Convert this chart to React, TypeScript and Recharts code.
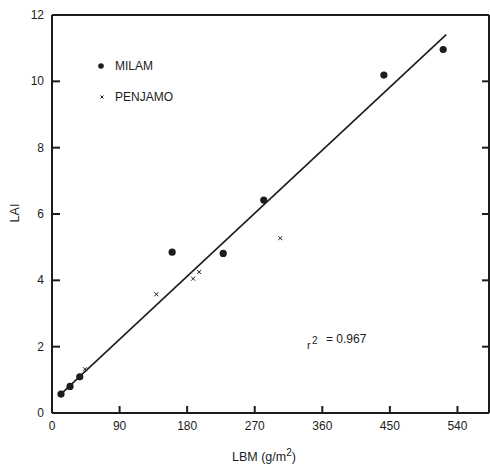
import { ScatterChart, Scatter, XAxis, YAxis } from 'recharts'

// LBM (g/m2) vs LAI
const milamLbm = [12, 24, 37, 160, 228, 282, 442, 521]
const milamLai = [0.57, 0.8, 1.09, 4.85, 4.81, 6.42, 10.19, 10.96]
const penjamoLbm = [44, 139, 188, 196, 304]
const penjamoLai = [1.32, 3.58, 4.05, 4.25, 5.27]
// fitted line end points
const fitLbm = [10, 525]
const fitLai = [0.53, 11.41]

const xTicks = [0, 90, 180, 270, 360, 450, 540]
const yTicks = [0, 2, 4, 6, 8, 10, 12]
const xTopTicks = [90, 180, 270, 360, 450, 540]
const yRightTicks = [2, 4, 6, 8, 10]

const milam = milamLbm.map((x, i) => ({ x, y: milamLai[i] }))
const penjamo = penjamoLbm.map((x, i) => ({ x, y: penjamoLai[i] }))
const fit = fitLbm.map((x, i) => ({ x, y: fitLai[i] }))

const INK = '#1c1c1c'
const FONT = '"Liberation Sans", Arial, sans-serif'

// bottom axis has height 1, so its tick origin sits 1px below the plot edge
const BottomTick = ({ x, y, payload }: any) => (
  <g>
    {payload.value !== 0 && <line x1={x} x2={x} y1={y - 1} y2={y - 7} stroke={INK} strokeWidth={2} />}
    <text x={x} y={y + 17} textAnchor="middle" fontSize={12} fill={INK} fontFamily={FONT}>
      {payload.value}
    </text>
  </g>
)

const LeftTick = ({ x, y, payload }: any) => (
  <g>
    {payload.value !== 0 && payload.value !== 12 && (
      <line x1={x} x2={x + 8} y1={y} y2={y} stroke={INK} strokeWidth={2} />
    )}
    <text x={x - 8} y={y + 4} textAnchor="end" fontSize={12} fill={INK} fontFamily={FONT}>
      {payload.value}
    </text>
  </g>
)

const TopTick = ({ x, y }: any) => (
  <line x1={x} x2={x} y1={y} y2={y + 7} stroke={INK} strokeWidth={2} />
)

const RightTick = ({ x, y }: any) => (
  <line x1={x} x2={x - 7} y1={y} y2={y} stroke={INK} strokeWidth={2} />
)

const Dot = ({ cx, cy }: any) => <circle cx={cx} cy={cy} r={3.6} fill={INK} />

const Ex = ({ cx, cy }: any) => (
  <g stroke={INK} strokeWidth={1}>
    <line x1={cx - 2} y1={cy - 2} x2={cx + 2} y2={cy + 2} />
    <line x1={cx - 2} y1={cy + 2} x2={cx + 2} y2={cy - 2} />
  </g>
)

const Nothing = () => <g />

export default function App() {
  const axisLine = { stroke: INK, strokeWidth: 2 }
  return (
    <div style={{ position: 'absolute', left: 0, top: 0, width: 490, height: 465, background: '#fff' }}>
      <ScatterChart width={490} height={465} margin={{ top: 14, right: 0, bottom: 51, left: 51 }}>
        <XAxis
          dataKey="x"
          type="number"
          domain={[0, 582]}
          allowDataOverflow
          ticks={xTicks}
          height={1}
          tickSize={0}
          tickMargin={0}
          axisLine={axisLine}
          tickLine={false}
          tick={<BottomTick />}
          interval={0}
        />
        <XAxis
          xAxisId="top"
          orientation="top"
          type="number"
          domain={[0, 582]}
          allowDataOverflow
          ticks={xTopTicks}
          height={1}
          tickSize={0}
          tickMargin={0}
          axisLine={axisLine}
          tickLine={false}
          tick={<TopTick />}
          interval={0}
        />
        <YAxis
          dataKey="y"
          type="number"
          domain={[0, 12]}
          allowDataOverflow
          ticks={yTicks}
          width={1}
          tickSize={0}
          tickMargin={0}
          axisLine={axisLine}
          tickLine={false}
          tick={<LeftTick />}
          interval={0}
        />
        <YAxis
          yAxisId="right"
          orientation="right"
          type="number"
          domain={[0, 12]}
          allowDataOverflow
          ticks={yRightTicks}
          width={1}
          tickSize={0}
          tickMargin={0}
          axisLine={axisLine}
          tickLine={false}
          tick={<RightTick />}
          interval={0}
        />
        <Scatter
          data={fit}
          line={{ stroke: INK, strokeWidth: 1.6 }}
          shape={<Nothing />}
          isAnimationActive={false}
        />
        <Scatter data={milam} shape={<Dot />} isAnimationActive={false} />
        <Scatter data={penjamo} shape={<Ex />} isAnimationActive={false} />
      </ScatterChart>

      <svg
        width={490}
        height={465}
        style={{ position: 'absolute', left: 0, top: 0, pointerEvents: 'none' }}
        fontFamily={FONT}
        fill={INK}
      >
        {/* legend */}
        <circle cx={101} cy={66} r={2.8} fill={INK} />
        <text x={115} y={70} fontSize={12}>MILAM</text>
        <g stroke={INK} strokeWidth={1}>
          <line x1={100.5} y1={95.5} x2={103.5} y2={98.5} />
          <line x1={100.5} y1={98.5} x2={103.5} y2={95.5} />
        </g>
        <text x={115} y={101} fontSize={12}>PENJAMO</text>

        {/* r squared */}
        <text x={307} y={349} fontSize={11}>r</text>
        <text x={312} y={344} fontSize={10}>2</text>
        <text x={326} y={343} fontSize={12}>= 0.967</text>

        {/* axis titles */}
        <text x={15} y={213} fontSize={12.5} textAnchor="middle" transform="rotate(-90 15 213)" dy={4}>
          LAI
        </text>
        <text x={232} y={461} fontSize={12.5}>
          LBM (g/m<tspan fontSize={10} dy={-5}>2</tspan>
          <tspan dy={5}>)</tspan>
        </text>
      </svg>
    </div>
  )
}
